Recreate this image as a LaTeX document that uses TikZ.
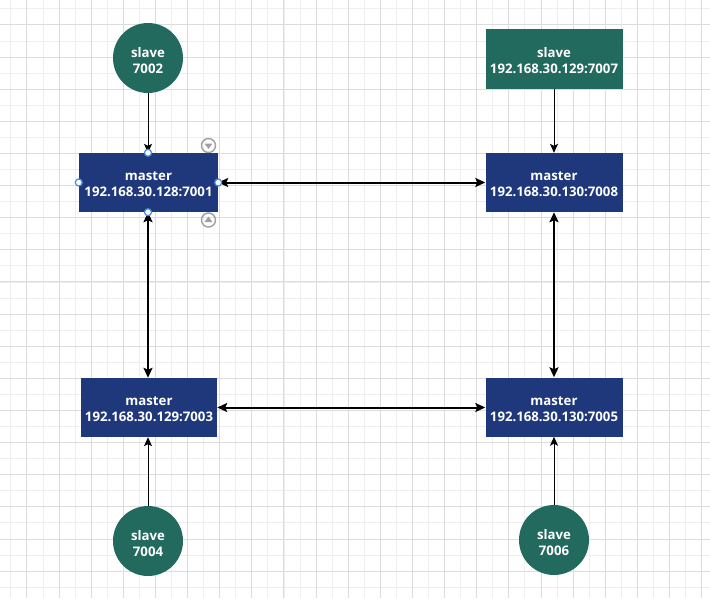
\documentclass[tikz,border=0pt]{standalone}
\usepackage{fontspec}
\setmainfont{Open Sans}
\usetikzlibrary{arrows.meta,calc}
\definecolor{masterblue}{HTML}{1F387C}
\definecolor{slavegreen}{HTML}{22695E}
\definecolor{gridminor}{HTML}{EEEEEE}
\definecolor{gridmajor}{HTML}{DCDCDC}
\definecolor{handleblue}{HTML}{3D8BE6}
\definecolor{iconGray}{HTML}{A0A0A0}
\tikzset{
  lbl/.style={text=white, align=center, inner sep=0pt, font=\bfseries\fontsize{13.2}{16}\selectfont},
  master/.style={rectangle, fill=masterblue, minimum width=139pt, minimum height=59pt},
  slavebox/.style={rectangle, fill=slavegreen, minimum width=137pt, minimum height=60pt},
  slavecirc/.style={circle, fill=slavegreen, minimum size=70pt, inner sep=0pt},
  single/.style={line width=1pt, -{Stealth[length=9pt,width=8pt,inset=2pt]}},
  double/.style={line width=2pt, {Stealth[length=10pt,width=9pt,inset=2pt]}-{Stealth[length=10pt,width=9pt,inset=2pt]}},
  handle/.style={circle, draw=handleblue, fill=white, line width=1.2pt, minimum size=7pt, inner sep=0pt},
  uiicon/.style={circle, draw=iconGray, line width=1.4pt, minimum size=14pt, inner sep=0pt},
}
\begin{document}
\begin{tikzpicture}[x=1pt,y=-1pt]
\useasboundingbox (0,0) rectangle (710,598);
\fill[white] (0,0) rectangle (710,598);
% grid
\foreach \i in {0,...,44} {
  \pgfmathsetmacro\xx{10.9+16.065*\i}
  \draw[gridminor, line width=1pt] (\xx,0) -- (\xx,598);
}
\foreach \i in {0,...,37} {
  \pgfmathsetmacro\yy{8.9+16.065*\i}
  \draw[gridminor, line width=1pt] (0,\yy) -- (710,\yy);
}
\foreach \i in {0,...,21} {
  \pgfmathsetmacro\xx{26.95+32.13*\i}
  \draw[gridmajor, line width=1pt] (\xx,0) -- (\xx,598);
}
\foreach \i in {0,...,18} {
  \pgfmathsetmacro\yy{24.95+32.13*\i}
  \draw[gridmajor, line width=1pt] (0,\yy) -- (710,\yy);
}
% nodes (shapes)
\node[slavecirc] (s7002) at (148,58) {};
\node[slavebox] (s7007) at (554,59) {};
\node[master] (m7001) at (148.5,182.5) {};
\node[master, minimum width=137pt] (m7008) at (554,182.5) {};
\node[master, minimum width=136pt] (m7003) at (149,407.5) {};
\node[master, minimum width=137pt] (m7005) at (554,407) {};
\node[slavecirc] (s7004) at (148,541) {};
\node[slavecirc] (s7006) at (554,540) {};
% labels
\node[lbl] (t7002) at ($(s7002.center)+(0,2.5)$) {slave\\7002};
\node[lbl] (t7007) at ($(s7007.center)+(0,2)$) {slave\\192.168.30.129:7007};
\node[lbl] (t7001) at ($(m7001.center)+(0,2)$) {master\\192.168.30.128:7001};
\node[lbl] (t7008) at ($(m7008.center)+(0,2)$) {master\\192.168.30.130:7008};
\node[lbl] (t7003) at ($(m7003.center)+(0,2)$) {master\\192.168.30.129:7003};
\node[lbl] (t7005) at ($(m7005.center)+(0,2)$) {master\\192.168.30.130:7005};
\node[lbl] (t7004) at ($(s7004.center)+(0,2.5)$) {slave\\7004};
\node[lbl] (t7006) at ($(s7006.center)+(0,2.5)$) {slave\\7006};
% connectors
\draw[single] (s7002.south) -- (s7002.south |- m7001.north);
\draw[single] (s7007.south) -- (s7007.south |- m7008.north);
\draw[single] (s7004.north) -- (s7004.north |- m7003.south);
\draw[single] (s7006.north) -- (s7006.north |- m7005.south);
\draw[double] (m7001.east) -- (m7008.west);
\draw[double] (m7003.east) -- (m7003.east -| m7005.west);
\draw[double] (m7001.south -| s7002.south) -- (s7002.south |- m7003.north);
\draw[double] (m7008.south) -- (m7008.south |- m7005.north);
% selection handles
\node[handle] (h1) at (m7001.north -| s7002.south) {};
\node[handle] (h2) at (m7001.south -| s7002.south) {};
\node[handle] (h3) at (m7001.west) {};
\node[handle] (h4) at (m7001.east) {};
\node[uiicon] (i1) at (208.5,145.5) {};
\node[uiicon] (i2) at (208.5,220) {};
\fill[iconGray] ($(i1)+(-4,-2)$) -- ($(i1)+(4,-2)$) -- ($(i1)+(0,3.5)$) -- cycle;
\fill[iconGray] ($(i2)+(-4,2)$) -- ($(i2)+(4,2)$) -- ($(i2)+(0,-3.5)$) -- cycle;
\end{tikzpicture}
\end{document}
